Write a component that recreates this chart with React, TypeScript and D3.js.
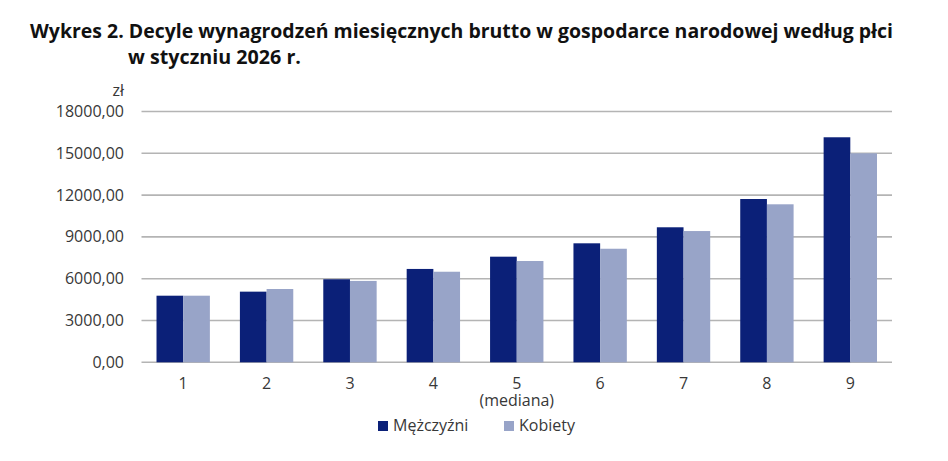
import React from "react";
import * as d3 from "d3";

const categories = ["1", "2", "3", "4", "5", "6", "7", "8", "9"];
const seriesNames = ["Mężczyźni", "Kobiety"];
const men = [4780, 5070, 5960, 6700, 7580, 8540, 9690, 11720, 16150];
const women = [4780, 5260, 5840, 6500, 7270, 8150, 9420, 11340, 15000];
const yTicks = [0, 3000, 6000, 9000, 12000, 15000, 18000];

const W = 948;
const H = 461;
const colors = ["#0b2078", "#98a4c8"];

export default function App() {
  const left = 141.5;
  const right = 892;
  const top = 111.5;
  const bottom = 362.3;
  const x = d3.scaleBand<string>().domain(categories).range([left, right]).paddingInner(0.36).paddingOuter(0.18);
  const x1 = d3.scaleBand<string>().domain(seriesNames).range([0, x.bandwidth()]);
  const y = d3.scaleLinear().domain([0, 18000]).range([bottom, top]);
  const fmt = (v: number) => d3.format(".2f")(v).replace(".", ",");
  const data = [men, women];
  const font = "'Open Sans', 'DejaVu Sans', sans-serif";
  const fs = 16;
  const tc = "#383838";
  return (
    <svg width={W} height={H} style={{ position: "absolute", left: 0, top: 0, background: "#fff" }}>
      <text x={30} y={38} fontFamily={font} fontWeight={700} fontSize={19} fill="#111"
        textLength={863} lengthAdjust="spacingAndGlyphs">
        Wykres 2. Decyle wynagrodzeń miesięcznych brutto w gospodarce narodowej według płci
      </text>
      <text x={128} y={64} fontFamily={font} fontWeight={700} fontSize={19} fill="#111"
        textLength={173} lengthAdjust="spacingAndGlyphs">
        w styczniu 2026 r.
      </text>
      <text x={124} y={96} textAnchor="end" fontFamily={font} fontSize={fs} fill={tc}>zł</text>
      {yTicks.map((t) => (
        <g key={t}>
          <line x1={left} x2={right} y1={y(t)} y2={y(t)} stroke="#b4b4b4" strokeWidth={1.6} />
          <text x={124} y={y(t) + 5.5} textAnchor="end" fontFamily={font} fontSize={fs} fill={tc}>
            {fmt(t)}
          </text>
        </g>
      ))}
      {categories.map((c, i) => (
        <g key={c}>
          {seriesNames.map((s, j) => (
            <rect key={s} x={(x(c) as number) + (x1(s) as number)} y={y(data[j][i])}
              width={x1.bandwidth()} height={bottom - y(data[j][i])} fill={colors[j]} />
          ))}
          <text x={(x(c) as number) + x.bandwidth() / 2} y={389} textAnchor="middle" fontFamily={font}
            fontSize={fs} fill={tc}>{c}</text>
        </g>
      ))}
      <text x={(x("5") as number) + x.bandwidth() / 2} y={406} textAnchor="middle" fontFamily={font}
        fontSize={fs} fill={tc}>(mediana)</text>
      {seriesNames.map((s, j) => {
        const lx = [378, 504][j];
        return (
          <g key={s}>
            <rect x={lx} y={421} width={10} height={10} fill={colors[j]} />
            <text x={lx + 15} y={431} fontFamily={font} fontSize={fs} fill={tc}>{s}</text>
          </g>
        );
      })}
    </svg>
  );
}
